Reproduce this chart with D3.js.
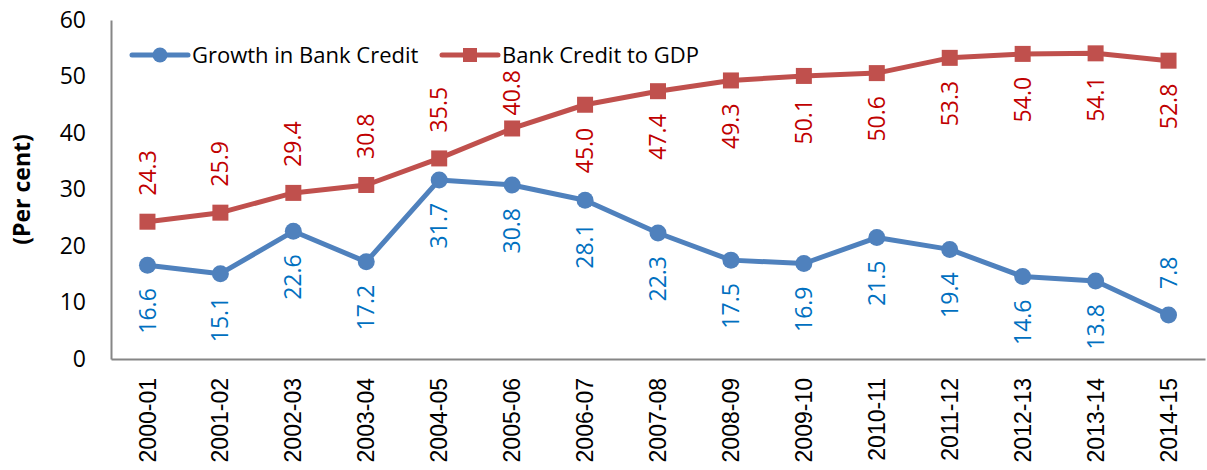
<!DOCTYPE html>
<html lang="en">
<head>
    <meta charset="UTF-8">
    <title>Bank Credit</title>
    <script src="https://cdn.jsdelivr.net/npm/d3@7"></script>
    <style>
        body { margin: 0; background: #fff; }
        #chart { width: 1207px; height: 470px; }
        .domain { stroke: #868686; stroke-width: 2; }
    </style>
</head>
<body>
<div id="chart"></div>
<script type="text/javascript">
    var years = ['2000-01', '2001-02', '2002-03', '2003-04', '2004-05', '2005-06', '2006-07', '2007-08',
        '2008-09', '2009-10', '2010-11', '2011-12', '2012-13', '2013-14', '2014-15'];
    var growth = [16.6, 15.1, 22.6, 17.2, 31.7, 30.8, 28.1, 22.3, 17.5, 16.9, 21.5, 19.4, 14.6, 13.8, 7.8];
    var creditGdp = [24.3, 25.9, 29.4, 30.8, 35.5, 40.8, 45.0, 47.4, 49.3, 50.1, 50.6, 53.3, 54.0, 54.1, 52.8];
    var yTicks = [0, 10, 20, 30, 40, 50, 60];
    var seriesNames = ['Growth in Bank Credit', 'Bank Credit to GDP'];

    var blue = '#4f81bd', red = '#c0504d';
    var blueText = '#0070c0', redText = '#c00000';
    var calibri = '"Open Sans", sans-serif';

    var svgw = 1207, svgh = 470;
    var pLeft = 111, pRight = 1205, pTop = 20, pBottom = 359;

    var svg = d3.select('#chart').append('svg')
        .attr('width', svgw)
        .attr('height', svgh);

    var x = d3.scaleBand().domain(years).range([pLeft, pRight]);
    var y = d3.scaleLinear().domain([0, 60]).range([pBottom, pTop]);
    var cx = function (i) { return x(years[i]) + x.bandwidth() / 2; };

    // y axis
    var yAxis = svg.append('g')
        .attr('transform', 'translate(' + pLeft + ',0)')
        .call(d3.axisLeft(y).tickValues(yTicks).tickSize(0).tickPadding(25));
    yAxis.selectAll('text')
        .attr('font-family', calibri)
        .attr('font-size', 23)
        .attr('fill', '#000');

    // x axis
    var xAxis = svg.append('g')
        .attr('transform', 'translate(0,' + pBottom + ')')
        .call(d3.axisBottom(x).tickSize(0).tickSizeOuter(0));
    xAxis.selectAll('text')
        .attr('font-family', '"Liberation Sans", Arial, sans-serif')
        .attr('font-size', 23)
        .attr('fill', '#000')
        .attr('text-anchor', 'end')
        .attr('transform', 'translate(0,19) rotate(-90)')
        .attr('x', 0)
        .attr('y', 0)
        .attr('dy', '0.35em');

    // axis title
    svg.append('text')
        .attr('transform', 'translate(22,' + (pTop + pBottom) / 2 + ') rotate(-90)')
        .attr('text-anchor', 'middle')
        .attr('dy', '0.35em')
        .attr('font-family', calibri)
        .attr('font-size', 23)
        .attr('font-weight', 'bold')
        .text('(Per cent)');

    var line = d3.line()
        .x(function (d, i) { return cx(i); })
        .y(function (d) { return y(d); });

    // lines
    svg.append('path').datum(creditGdp)
        .attr('d', line).attr('fill', 'none')
        .attr('stroke', red).attr('stroke-width', 5).attr('stroke-linejoin', 'round');
    svg.append('path').datum(growth)
        .attr('d', line).attr('fill', 'none')
        .attr('stroke', blue).attr('stroke-width', 5).attr('stroke-linejoin', 'round');

    // markers
    svg.selectAll('rect.m')
        .data(creditGdp)
        .enter()
        .append('rect')
        .attr('x', function (d, i) { return cx(i) - 8; })
        .attr('y', function (d) { return y(d) - 8; })
        .attr('width', 16).attr('height', 16)
        .attr('fill', red);
    svg.selectAll('circle.m')
        .data(growth)
        .enter()
        .append('circle')
        .attr('cx', function (d, i) { return cx(i); })
        .attr('cy', function (d) { return y(d); })
        .attr('r', 8.5)
        .attr('fill', blue);

    // data labels
    function addLabels(data, color, isAbove) {
        svg.selectAll(null)
            .data(data)
            .enter()
            .append('text')
            .text(function (d) { return d.toFixed(1); })
            .attr('font-family', calibri)
            .attr('font-size', 23)
            .attr('fill', color)
            .attr('dy', '0.35em')
            .each(function (d, i) {
                var t = d3.select(this);
                var len = this.getComputedTextLength();
                var py = y(d);
                if (isAbove(d, i)) {
                    var ay = py - 26;
                    if (ay - len < 70) ay = 70 + len;
                    t.attr('text-anchor', 'start')
                        .attr('transform', 'translate(' + cx(i) + ',' + ay + ') rotate(-90)');
                } else {
                    t.attr('text-anchor', 'end')
                        .attr('transform', 'translate(' + cx(i) + ',' + (py + 23) + ') rotate(-90)');
                }
            });
    }
    addLabels(creditGdp, redText, function (d, i) { return d - growth[i] < 15; });
    addLabels(growth, blueText, function (d) { return d < 10; });

    // legend
    var legend = [
        {name: seriesNames[0], color: blue, x: 132, shape: 'circle'},
        {name: seriesNames[1], color: red, x: 442, shape: 'rect'}
    ];
    var lg = svg.selectAll('g.legend')
        .data(legend)
        .enter()
        .append('g')
        .attr('transform', function (d) { return 'translate(' + d.x + ',55)'; });
    lg.append('line')
        .attr('x1', 0).attr('x2', 56)
        .attr('stroke', function (d) { return d.color; })
        .attr('stroke-width', 5)
        .attr('stroke-linecap', 'round');
    lg.filter(function (d) { return d.shape === 'circle'; })
        .append('circle').attr('cx', 28).attr('r', 7.5)
        .attr('fill', function (d) { return d.color; });
    lg.filter(function (d) { return d.shape === 'rect'; })
        .append('rect').attr('x', 21).attr('y', -7).attr('width', 14).attr('height', 14)
        .attr('fill', function (d) { return d.color; });
    lg.append('text')
        .attr('x', 60)
        .attr('dy', '0.35em')
        .attr('font-family', calibri)
        .attr('font-size', 22)
        .text(function (d) { return d.name; });
</script>
</body>
</html>
